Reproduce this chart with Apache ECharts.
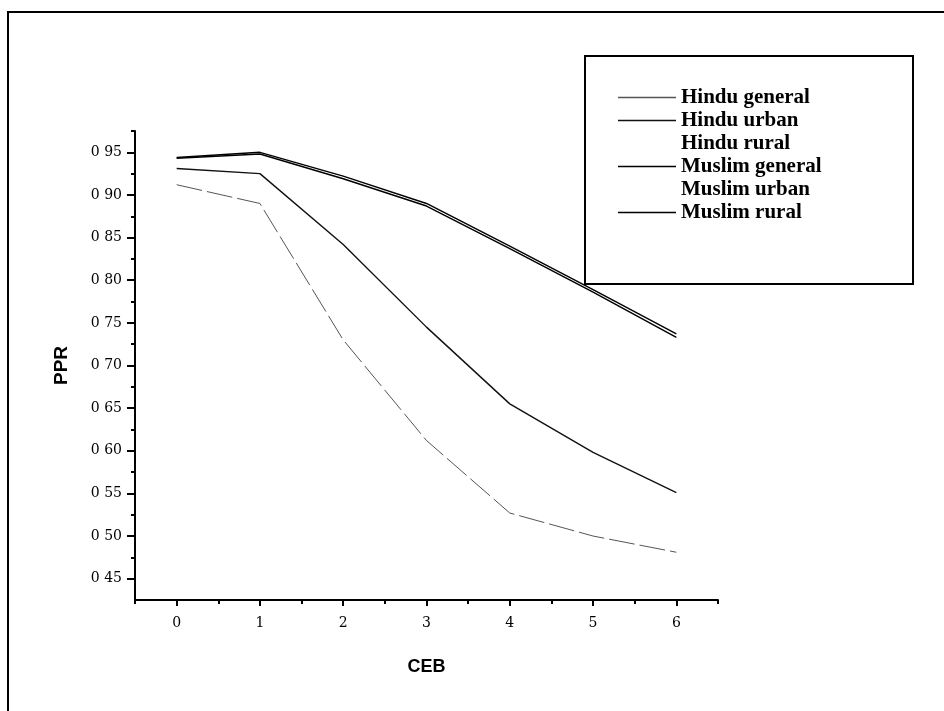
<!DOCTYPE html>
<html>
<head>
<meta charset="utf-8">
<script src="https://cdn.jsdelivr.net/npm/echarts@6/dist/echarts.min.js"></script>
<style>
html,body{margin:0;padding:0;background:#fff;}
#chart{width:944px;height:711px;}
</style>
</head>
<body>
<div id="chart"></div>
<script>
// ---- data ----
const ceb = [0, 1, 2, 3, 4, 5, 6];
const hinduGeneral = [0.912, 0.890, 0.730, 0.612, 0.527, 0.500, 0.481];
const hinduUrban = [0.931, 0.925, 0.842, 0.745, 0.655, 0.598, 0.551];
const hinduRural = [];   // not visible in the reference
const muslimGeneral = [0.944, 0.950, 0.922, 0.890, 0.840, 0.789, 0.737];
const muslimUrban = [];  // not visible in the reference
const muslimRural = [0.943, 0.948, 0.919, 0.887, 0.837, 0.786, 0.733];

const seriesNames = ['Hindu general', 'Hindu urban', 'Hindu rural', 'Muslim general', 'Muslim urban', 'Muslim rural'];

const xTickValues = [0, 1, 2, 3, 4, 5, 6];
const xTickLabels = ['0', '1', '2', '3', '4', '5', '6'];
const xMinorTicks = [-0.5, 0.5, 1.5, 2.5, 3.5, 4.5, 5.5, 6.5];
const yTickValues = [0.45, 0.50, 0.55, 0.60, 0.65, 0.70, 0.75, 0.80, 0.85, 0.90, 0.95];
const yTickLabels = ['0 45', '0 50', '0 55', '0 60', '0 65', '0 70', '0 75', '0 80', '0 85', '0 90', '0 95'];
const yMinorTicks = [0.475, 0.525, 0.575, 0.625, 0.675, 0.725, 0.775, 0.825, 0.875, 0.925, 0.975];

function pairs(ys) { return ys.map((y, i) => [ceb[i], y]); }
function labelFor(values, labels) {
  return function (v) {
    for (let i = 0; i < values.length; i++) if (Math.abs(values[i] - v) < 1e-6) return labels[i];
    return '';
  };
}

const chart = echarts.init(document.getElementById('chart'), null, {renderer: 'canvas'});

const serifFont = 'DejaVu Serif';
const option = {
  animation: false,
  backgroundColor: '#fff',
  grid: {left: 135, right: 226, top: 131, bottom: 111, containLabel: false},
  graphic: [
    {type: 'polyline', shape: {points: [[8, 711], [8, 12], [944, 12]]}, style: {stroke: '#000', lineWidth: 2, fill: null}, z: 0},
    {type: 'rect', shape: {x: 585, y: 56, width: 328, height: 228}, style: {stroke: '#000', lineWidth: 2, fill: null}, z: 0}
  ],
  legend: {
    orient: 'vertical',
    left: 618,
    top: 86,
    padding: 0,
    itemGap: 0,
    itemWidth: 58,
    itemHeight: 1.5,
    icon: 'rect',
    selectedMode: false,
    data: seriesNames,
    textStyle: {fontFamily: 'Liberation Serif', fontSize: 21, fontWeight: 'bold', color: '#000', lineHeight: 23}
  },
  xAxis: [
    {
      type: 'value', min: -0.5, max: 6.5,
      name: 'CEB', nameLocation: 'middle', nameGap: 58,
      nameTextStyle: {fontFamily: 'Liberation Sans', fontWeight: 'bold', fontSize: 18, color: '#000'},
      axisLine: {show: true, onZero: false, lineStyle: {color: '#000', width: 2}},
      axisTick: {show: true, customValues: xTickValues, length: 6, lineStyle: {color: '#000', width: 2}},
      axisLabel: {show: true, customValues: xTickValues, formatter: labelFor(xTickValues, xTickLabels), margin: 16,
        fontFamily: serifFont, fontSize: 14, color: '#000'},
      splitLine: {show: false}
    },
    {
      type: 'value', min: -0.5, max: 6.5, position: 'bottom',
      axisLine: {show: false, onZero: false},
      axisTick: {show: true, customValues: xMinorTicks, length: 4, lineStyle: {color: '#000', width: 2}},
      axisLabel: {show: false},
      splitLine: {show: false}
    }
  ],
  yAxis: [
    {
      type: 'value', min: 0.425, max: 0.975,
      name: 'PPR', nameLocation: 'middle', nameGap: 64, nameRotate: 90,
      nameTextStyle: {fontFamily: 'Liberation Sans', fontWeight: 'bold', fontSize: 19, color: '#000'},
      axisLine: {show: true, onZero: false, lineStyle: {color: '#000', width: 2}},
      axisTick: {show: true, customValues: yTickValues, length: 8, lineStyle: {color: '#000', width: 2}},
      axisLabel: {show: true, customValues: yTickValues, formatter: labelFor(yTickValues, yTickLabels), margin: 13,
        fontFamily: serifFont, fontSize: 14, color: '#000'},
      splitLine: {show: false}
    },
    {
      type: 'value', min: 0.425, max: 0.975, position: 'left',
      axisLine: {show: false, onZero: false},
      axisTick: {show: true, customValues: yMinorTicks, length: 4, lineStyle: {color: '#000', width: 2}},
      axisLabel: {show: false},
      splitLine: {show: false}
    }
  ],
  series: [
    {name: 'Hindu general', type: 'line', data: pairs(hinduGeneral), symbol: 'none', showSymbol: false,
      lineStyle: {color: '#555', width: 1, type: [26, 5]}, itemStyle: {color: '#555'}},
    {name: 'Hindu urban', type: 'line', data: pairs(hinduUrban), symbol: 'none', showSymbol: false,
      lineStyle: {color: '#111', width: 1.4}, itemStyle: {color: '#111'}},
    {name: 'Hindu rural', type: 'line', data: pairs(hinduRural), symbol: 'none', showSymbol: false,
      lineStyle: {color: 'rgba(0,0,0,0)', width: 1}, itemStyle: {color: 'rgba(0,0,0,0)'}},
    {name: 'Muslim general', type: 'line', data: pairs(muslimGeneral), symbol: 'none', showSymbol: false,
      lineStyle: {color: '#000', width: 1.4}, itemStyle: {color: '#000'}},
    {name: 'Muslim urban', type: 'line', data: pairs(muslimUrban), symbol: 'none', showSymbol: false,
      lineStyle: {color: 'rgba(0,0,0,0)', width: 1}, itemStyle: {color: 'rgba(0,0,0,0)'}},
    {name: 'Muslim rural', type: 'line', data: pairs(muslimRural), symbol: 'none', showSymbol: false,
      lineStyle: {color: '#000', width: 1.4}, itemStyle: {color: '#000'}}
  ]
};
chart.setOption(option);
</script>
</body>
</html>
